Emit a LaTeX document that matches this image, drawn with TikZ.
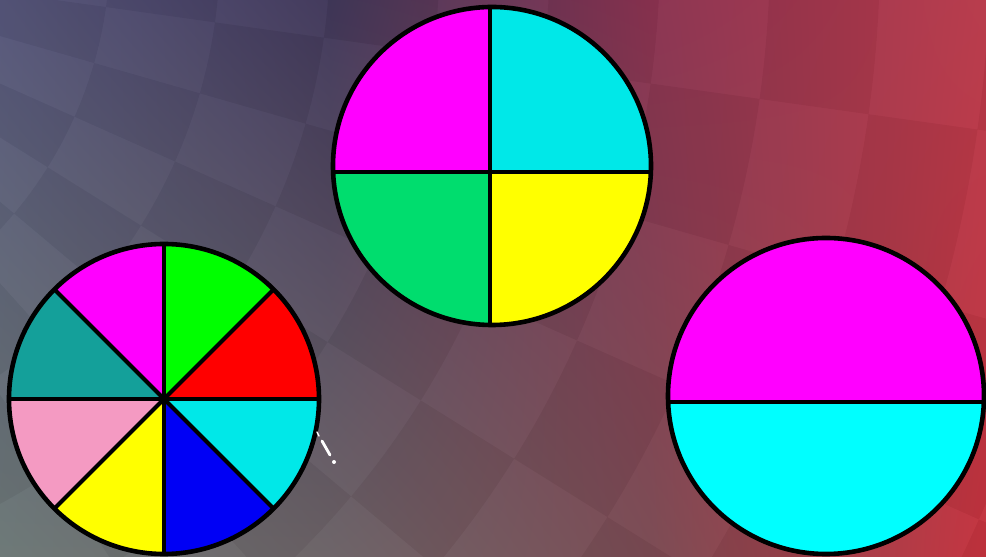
\documentclass[tikz,border=0pt]{standalone}
\usetikzlibrary{shadings}
\begin{document}
\begin{tikzpicture}[x=1pt,y=1pt,
  outline/.style={line width=4.6pt,draw=black},
  spoke/.style={line width=4pt,draw=black},
  facetdark/.style={fill=black,fill opacity=0.035},
  facetlight/.style={fill=white,fill opacity=0.02}]
\definecolor{bgTL}{HTML}{55557A}
\definecolor{bgBL}{HTML}{6C7876}
\definecolor{bgTM}{HTML}{41385A}
\definecolor{bgBM}{HTML}{6C6266}
\definecolor{bgTR1}{HTML}{8A3250}
\definecolor{bgBR1}{HTML}{7A4A52}
\definecolor{bgTR}{HTML}{B83A4A}
\definecolor{bgBR}{HTML}{C4323E}
\definecolor{cMag}{HTML}{FF00FF}
\definecolor{cCyanA}{HTML}{00E8E8}
\definecolor{cCyanB}{HTML}{00FFFF}
\definecolor{cGreen}{HTML}{00FF00}
\definecolor{cRed}{HTML}{FF0000}
\definecolor{cTeal}{HTML}{14A09A}
\definecolor{cPink}{HTML}{F49AC2}
\definecolor{cYellow}{HTML}{FFFF00}
\definecolor{cBlue}{HTML}{0000F5}
\definecolor{cMint}{HTML}{00DD6E}
\useasboundingbox (0,0) rectangle (986,557);
% background
\shade[upper left=bgTL,upper right=bgTM,lower left=bgBL,lower right=bgBM] (0,0) rectangle (331,557);
\shade[upper left=bgTM,upper right=bgTR1,lower left=bgBM,lower right=bgBR1] (330,0) rectangle (651,557);
\shade[upper left=bgTR1,upper right=bgTR,lower left=bgBR1,lower right=bgBR] (650,0) rectangle (986,557);
% faint faceted texture
\begin{scope}
  \clip (0,0) rectangle (986,557);
  \coordinate (fc) at (-300,607);
  \foreach \i in {0,...,11}{
    \foreach \j in {0,...,9}{
      \pgfmathsetmacro{\ri}{300+110*\i}
      \pgfmathsetmacro{\ro}{410+110*\i}
      \pgfmathsetmacro{\aa}{-80+8*\j}
      \pgfmathsetmacro{\bb}{-72+8*\j}
      \pgfmathtruncatemacro{\myparity}{mod(\i+\j,2)}
      \ifnum\myparity=0
        \path[facetdark,shift={(fc)}] (\aa:\ri) arc[start angle=\aa,end angle=\bb,radius=\ri] -- (\bb:\ro) arc[start angle=\bb,end angle=\aa,radius=\ro] -- cycle;
      \else
        \path[facetlight,shift={(fc)}] (\aa:\ri) arc[start angle=\aa,end angle=\bb,radius=\ri] -- (\bb:\ro) arc[start angle=\bb,end angle=\aa,radius=\ro] -- cycle;
      \fi
    }
  }
\end{scope}
% circle 1: eighths
\coordinate (c1) at (164,158);
\def\ra{155}
\foreach \a/\b/\col in {0/45/cRed,45/90/cGreen,90/135/cMag,135/180/cTeal,180/225/cPink,225/270/cYellow,270/315/cBlue,315/360/cCyanA}{
  \fill[\col] (c1) -- ++(\a:\ra) arc[start angle=\a,end angle=\b,radius=\ra] -- cycle;
}
\foreach \a in {0,45,...,315}{
  \draw[spoke] (c1) -- ++(\a:\ra);
}
\fill (c1) circle (4);
\draw[outline] (c1) circle (\ra);
% circle 2: quarters
\coordinate (c2) at (492,391);
\coordinate (x2) at (490,385);
\begin{scope}
  \clip (c2) circle (159);
  \fill[cMag] (x2) rectangle (300,600);
  \fill[cCyanA] (x2) rectangle (700,600);
  \fill[cMint] (x2) rectangle (300,200);
  \fill[cYellow] (x2) rectangle (700,200);
  \draw[spoke] (x2 |- 0,600) -- (x2 |- 0,200);
  \draw[spoke] (x2 -| 300,0) -- (x2 -| 700,0);
\end{scope}
\draw[outline] (c2) circle (159);
% circle 3: halves
\coordinate (c3) at (826,161);
\coordinate (h3) at (826,155);
\begin{scope}
  \clip (c3) circle (158);
  \fill[cMag] (h3 -| 600,0) rectangle (1000,400);
  \fill[cCyanB] (h3 -| 600,0) rectangle (1000,-100);
  \draw[spoke] (h3 -| 600,0) -- (h3 -| 1000,0);
\end{scope}
\draw[outline] (c3) circle (158);
% small white cursor mark
\coordinate (m1) at (317,125);
\coordinate (m2) at (319,121);
\coordinate (m3) at (322,116);
\coordinate (m4) at (330,102);
\coordinate (m5) at (334,95);
\draw[white,line width=1.5pt,line cap=round] (m1) -- (m2);
\draw[white,line width=2.8pt,line cap=round] (m3) -- (m4);
\fill[white] (m5) circle (2);
\end{tikzpicture}
\end{document}
